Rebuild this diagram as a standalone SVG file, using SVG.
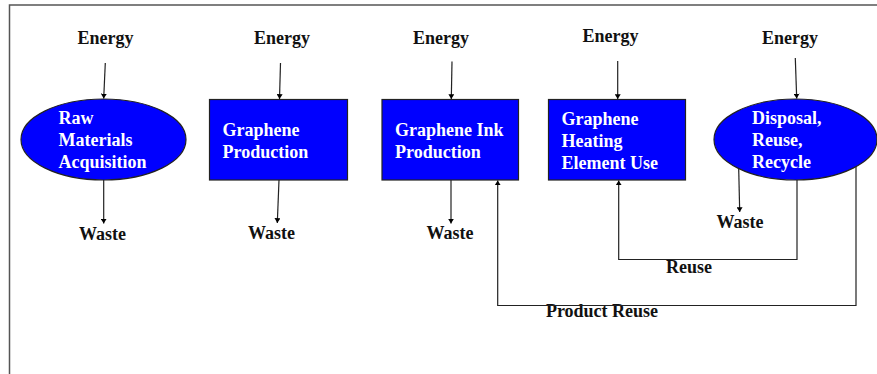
<svg xmlns="http://www.w3.org/2000/svg" width="877" height="374" viewBox="0 0 877 374">
<defs>
<marker id="ah" viewBox="0 0 8 10" refX="8" refY="5" markerWidth="5" markerHeight="6" orient="auto" markerUnits="userSpaceOnUse">
<path d="M0,0 L8,5 L0,10 z" fill="#000"/>
</marker>
<style>
.lbl{font-family:"Liberation Serif","Times New Roman",serif;font-weight:bold;font-size:18px;fill:#111}
.in{font-family:"Liberation Serif","Times New Roman",serif;font-weight:bold;font-size:18px;fill:#fff}
.shape{fill:#0000ff;stroke:#222;stroke-width:1.2}
.c{fill:none;stroke:#222;stroke-width:1.2}
.a{marker-end:url(#ah)}
.frame{fill:none;stroke:#555;stroke-width:1.5}
</style>
</defs>
<rect width="877" height="374" fill="#fff"/>
<path class="frame" d="M9.5,374 V5 H877"/>

<g id="n1">
<ellipse class="shape" cx="103.5" cy="139.5" rx="82.5" ry="40.5"/>
<text class="in" x="58.5" y="124">Raw</text>
<text class="in" x="58.5" y="146">Materials</text>
<text class="in" x="58.5" y="168">Acquisition</text>
</g>
<g id="n2">
<rect class="shape" x="209.5" y="99.5" width="138" height="80.5"/>
<text class="in" x="222.5" y="136">Graphene</text>
<text class="in" x="222.5" y="158">Production</text>
</g>
<g id="n3">
<rect class="shape" x="382" y="99.5" width="136.5" height="80.5"/>
<text class="in" x="395" y="136">Graphene Ink</text>
<text class="in" x="395" y="158">Production</text>
</g>
<g id="n4">
<rect class="shape" x="548.5" y="99.5" width="137" height="80.5"/>
<text class="in" x="561.5" y="125">Graphene</text>
<text class="in" x="561.5" y="147">Heating</text>
<text class="in" x="561.5" y="169">Element Use</text>
</g>
<g id="n5">
<ellipse class="shape" cx="795.5" cy="139.5" rx="81.5" ry="40.5"/>
<text class="in" x="752" y="124">Disposal,</text>
<text class="in" x="752" y="146">Reuse,</text>
<text class="in" x="752" y="168">Recycle</text>
</g>

<g id="labels">
<text class="lbl" x="105.5" y="44" text-anchor="middle">Energy</text>
<text class="lbl" x="282" y="44" text-anchor="middle">Energy</text>
<text class="lbl" x="441" y="44" text-anchor="middle">Energy</text>
<text class="lbl" x="610.5" y="42" text-anchor="middle">Energy</text>
<text class="lbl" x="790" y="44" text-anchor="middle">Energy</text>
<text class="lbl" x="102.5" y="240" text-anchor="middle">Waste</text>
<text class="lbl" x="271.5" y="239" text-anchor="middle">Waste</text>
<text class="lbl" x="450" y="239" text-anchor="middle">Waste</text>
<text class="lbl" x="740" y="228" text-anchor="middle">Waste</text>
<text class="lbl" x="689" y="273" text-anchor="middle">Reuse</text>
<text class="lbl" x="602" y="317" text-anchor="middle">Product Reuse</text>
</g>

<g id="connectors">
<path class="c a" d="M105.3,63 L103.7,98.5"/>
<path class="c a" d="M280.5,63 L279.5,99"/>
<path class="c a" d="M452,61.5 L451.3,99"/>
<path class="c a" d="M617.7,61 L617.7,99"/>
<path class="c a" d="M795.3,58 L796.7,98.5"/>
<path class="c a" d="M103.7,180 L103.7,223.5"/>
<path class="c a" d="M279,180 L277.3,223"/>
<path class="c a" d="M451,180 L451,223.5"/>
<path class="c a" d="M738.7,168.5 L739.7,212"/>
<path class="c a" d="M797,180 V259.5 H618.7 V180.5"/>
<path class="c a" d="M856,166.5 V305.5 H497.7 V180.5"/>
</g>
</svg>
